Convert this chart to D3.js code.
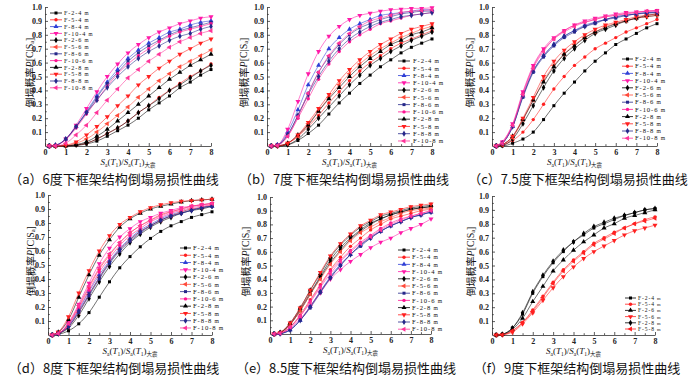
<!DOCTYPE html>
<html>
<head>
<meta charset="utf-8">
<script src="https://cdn.jsdelivr.net/npm/d3@7"></script>
<style>
body { margin: 0; background: #fff; }
svg { display: block; }
.axis text { font-family: "Liberation Serif", serif; font-weight: bold; font-size: 8px; fill: #222; }
.axis path, .axis line { stroke: #333; stroke-width: 0.8; }
</style>
</head>
<body>
<svg id="chart" width="700" height="375"></svg>
<script>
// Sa ratio where every curve is sampled
const xs = [0.2, 0.5, 1, 1.5, 2, 2.5, 3, 3.5, 4, 4.5, 5, 5.5, 6, 6.5, 7, 7.5, 8];

const names12 = ["F-2-4", "F-5-4", "F-8-4", "F-10-4", "F-2-6", "F-5-6", "F-8-6", "F-10-6", "F-2-8", "F-5-8", "F-8-8", "F-10-8"];
const names6 = ["F-2-4", "F-5-4", "F-2-6", "F-5-6", "F-2-8", "F-5-8"];

// (a) 6度
const pA = [
  [0,0,0,0.004,0.015,0.035,0.07,0.11,0.15,0.20,0.26,0.31,0.36,0.42,0.46,0.51,0.55],
  [0,0,0.001,0.006,0.02,0.05,0.09,0.13,0.18,0.24,0.29,0.35,0.40,0.45,0.50,0.54,0.59],
  [0,0.004,0.05,0.14,0.25,0.36,0.46,0.55,0.63,0.69,0.74,0.78,0.82,0.84,0.87,0.89,0.90],
  [0,0.003,0.05,0.15,0.27,0.39,0.50,0.59,0.67,0.73,0.78,0.82,0.85,0.88,0.90,0.92,0.93],
  [0,0,0.001,0.007,0.02,0.05,0.09,0.13,0.18,0.24,0.29,0.34,0.40,0.44,0.49,0.54,0.58],
  [0,0,0.003,0.02,0.05,0.10,0.16,0.22,0.28,0.35,0.41,0.47,0.52,0.57,0.61,0.65,0.69],
  [0,0.004,0.05,0.14,0.24,0.35,0.45,0.53,0.61,0.67,0.72,0.76,0.80,0.83,0.85,0.87,0.89],
  [0,0.004,0.045,0.13,0.23,0.33,0.43,0.52,0.59,0.65,0.70,0.75,0.79,0.82,0.84,0.86,0.88],
  [0,0,0.002,0.01,0.03,0.07,0.12,0.18,0.24,0.30,0.36,0.42,0.48,0.53,0.58,0.62,0.66],
  [0,0,0.006,0.03,0.08,0.14,0.21,0.29,0.36,0.44,0.50,0.56,0.61,0.66,0.70,0.74,0.77],
  [0,0.006,0.05,0.14,0.24,0.33,0.42,0.50,0.57,0.63,0.68,0.72,0.76,0.79,0.81,0.84,0.86],
  [0,0.001,0.02,0.08,0.15,0.24,0.33,0.41,0.49,0.55,0.61,0.66,0.71,0.75,0.78,0.81,0.83]
];

// (b) 7度
const pB = [
  [0,0,0.008,0.04,0.09,0.15,0.23,0.31,0.38,0.45,0.51,0.57,0.62,0.67,0.71,0.74,0.77],
  [0,0.001,0.02,0.07,0.14,0.22,0.31,0.39,0.47,0.54,0.60,0.65,0.70,0.74,0.77,0.80,0.83],
  [0,0.007,0.10,0.26,0.44,0.58,0.70,0.78,0.84,0.88,0.91,0.94,0.95,0.96,0.97,0.98,0.98],
  [0,0.007,0.12,0.32,0.52,0.68,0.79,0.86,0.91,0.94,0.955,0.97,0.98,0.985,0.99,0.99,0.995],
  [0,0,0.01,0.05,0.12,0.20,0.28,0.36,0.44,0.51,0.58,0.63,0.68,0.72,0.76,0.79,0.82],
  [0,0.001,0.02,0.07,0.16,0.25,0.35,0.44,0.52,0.59,0.65,0.70,0.74,0.78,0.81,0.84,0.86],
  [0,0.006,0.08,0.22,0.38,0.53,0.64,0.73,0.80,0.85,0.88,0.91,0.93,0.95,0.96,0.97,0.97],
  [0,0.006,0.07,0.20,0.34,0.48,0.59,0.68,0.75,0.80,0.84,0.88,0.90,0.92,0.94,0.95,0.96],
  [0,0.001,0.02,0.08,0.15,0.25,0.34,0.42,0.50,0.57,0.63,0.68,0.73,0.76,0.80,0.82,0.85],
  [0,0.001,0.02,0.08,0.17,0.27,0.37,0.47,0.55,0.62,0.68,0.73,0.77,0.81,0.84,0.86,0.88],
  [0,0.007,0.08,0.22,0.37,0.50,0.61,0.70,0.77,0.82,0.86,0.89,0.91,0.93,0.94,0.95,0.96],
  [0,0.003,0.07,0.21,0.38,0.53,0.65,0.74,0.81,0.86,0.90,0.92,0.94,0.96,0.97,0.975,0.98]
];

// (c) 7.5度
const pC = [
  [0,0,0.02,0.05,0.10,0.19,0.29,0.38,0.46,0.54,0.61,0.67,0.73,0.77,0.81,0.85,0.88],
  [0,0.005,0.04,0.10,0.19,0.30,0.41,0.50,0.58,0.64,0.70,0.74,0.78,0.82,0.85,0.88,0.91],
  [0,0.02,0.14,0.36,0.54,0.65,0.73,0.79,0.83,0.87,0.89,0.91,0.93,0.94,0.95,0.96,0.965],
  [0,0.03,0.16,0.39,0.58,0.70,0.78,0.83,0.87,0.90,0.92,0.935,0.95,0.96,0.965,0.97,0.975],
  [0,0.005,0.05,0.16,0.29,0.42,0.54,0.63,0.70,0.76,0.81,0.84,0.87,0.90,0.92,0.93,0.94],
  [0,0.01,0.06,0.19,0.33,0.47,0.58,0.66,0.73,0.78,0.82,0.86,0.88,0.90,0.92,0.93,0.94],
  [0,0.02,0.14,0.35,0.53,0.64,0.72,0.78,0.82,0.86,0.88,0.91,0.92,0.94,0.95,0.96,0.96],
  [0,0.03,0.15,0.38,0.57,0.69,0.77,0.83,0.87,0.89,0.91,0.93,0.94,0.955,0.96,0.97,0.975],
  [0,0.01,0.07,0.19,0.33,0.46,0.57,0.66,0.72,0.78,0.82,0.85,0.88,0.90,0.92,0.94,0.95],
  [0,0.01,0.07,0.20,0.35,0.50,0.61,0.69,0.75,0.80,0.84,0.87,0.89,0.91,0.93,0.94,0.95],
  [0,0.02,0.14,0.36,0.54,0.65,0.73,0.79,0.83,0.86,0.89,0.91,0.93,0.94,0.95,0.955,0.96],
  [0,0.02,0.15,0.37,0.56,0.68,0.77,0.82,0.86,0.89,0.91,0.93,0.94,0.95,0.96,0.97,0.97]
];

// (d) 8度
const pD = [
  [0,0.005,0.03,0.08,0.16,0.27,0.38,0.48,0.56,0.63,0.69,0.74,0.78,0.81,0.84,0.86,0.88],
  [0,0.01,0.08,0.20,0.34,0.47,0.57,0.66,0.73,0.78,0.82,0.86,0.88,0.90,0.92,0.93,0.94],
  [0,0.01,0.07,0.18,0.31,0.43,0.53,0.62,0.69,0.75,0.79,0.83,0.86,0.88,0.90,0.91,0.92],
  [0,0.02,0.09,0.22,0.37,0.51,0.62,0.70,0.76,0.81,0.84,0.87,0.89,0.91,0.92,0.93,0.94],
  [0,0.01,0.05,0.14,0.26,0.38,0.49,0.58,0.66,0.72,0.77,0.81,0.84,0.87,0.89,0.90,0.92],
  [0,0.01,0.06,0.16,0.29,0.41,0.52,0.61,0.68,0.74,0.78,0.82,0.85,0.88,0.90,0.91,0.93],
  [0,0.01,0.06,0.16,0.28,0.40,0.51,0.60,0.67,0.73,0.78,0.82,0.85,0.87,0.89,0.91,0.92],
  [0,0.01,0.07,0.19,0.32,0.45,0.55,0.64,0.71,0.76,0.81,0.84,0.87,0.89,0.91,0.92,0.93],
  [0,0.02,0.11,0.27,0.43,0.57,0.68,0.77,0.83,0.87,0.90,0.92,0.935,0.95,0.96,0.965,0.97],
  [0,0.02,0.13,0.30,0.46,0.60,0.71,0.79,0.84,0.88,0.91,0.93,0.945,0.955,0.96,0.965,0.97],
  [0,0.01,0.06,0.17,0.29,0.41,0.52,0.61,0.68,0.74,0.78,0.82,0.85,0.87,0.89,0.91,0.92],
  [0,0.01,0.08,0.21,0.35,0.48,0.58,0.66,0.73,0.78,0.82,0.85,0.88,0.90,0.92,0.93,0.94]
];

// (e) 8.5度
const pE = [
  [0,0.01,0.07,0.17,0.29,0.41,0.52,0.61,0.69,0.75,0.80,0.84,0.87,0.89,0.91,0.92,0.93],
  [0,0.005,0.05,0.14,0.25,0.36,0.47,0.56,0.64,0.70,0.76,0.80,0.84,0.86,0.88,0.90,0.91],
  [0,0.003,0.03,0.10,0.20,0.31,0.42,0.51,0.58,0.65,0.71,0.75,0.79,0.82,0.85,0.87,0.89],
  [0,0.003,0.04,0.11,0.20,0.30,0.40,0.47,0.53,0.58,0.63,0.67,0.70,0.74,0.77,0.80,0.84],
  [0,0.01,0.07,0.18,0.30,0.42,0.54,0.63,0.70,0.76,0.81,0.84,0.87,0.89,0.91,0.92,0.93],
  [0,0.01,0.07,0.17,0.29,0.40,0.51,0.60,0.68,0.74,0.78,0.82,0.85,0.88,0.90,0.91,0.92],
  [0,0.003,0.03,0.10,0.19,0.30,0.41,0.50,0.58,0.64,0.70,0.75,0.79,0.82,0.85,0.87,0.89],
  [0,0.005,0.05,0.13,0.24,0.35,0.46,0.54,0.61,0.67,0.72,0.77,0.81,0.84,0.86,0.88,0.90],
  [0,0.01,0.08,0.19,0.32,0.44,0.56,0.65,0.72,0.78,0.82,0.86,0.88,0.90,0.92,0.93,0.94],
  [0,0.01,0.08,0.19,0.32,0.45,0.57,0.66,0.73,0.79,0.83,0.87,0.89,0.91,0.93,0.94,0.95],
  [0,0.003,0.03,0.10,0.20,0.31,0.41,0.50,0.58,0.65,0.70,0.75,0.79,0.82,0.85,0.87,0.89],
  [0,0.005,0.05,0.13,0.23,0.34,0.44,0.53,0.60,0.66,0.71,0.76,0.80,0.83,0.86,0.88,0.90]
];

// (f) 9度
const pF = [
  [0,0.005,0.05,0.15,0.30,0.42,0.52,0.60,0.67,0.72,0.77,0.80,0.83,0.86,0.88,0.90,0.91],
  [0,0.002,0.03,0.09,0.18,0.28,0.38,0.47,0.54,0.60,0.66,0.70,0.74,0.77,0.80,0.83,0.85],
  [0,0.003,0.04,0.12,0.24,0.35,0.46,0.54,0.61,0.67,0.72,0.77,0.80,0.84,0.86,0.88,0.90],
  [0,0.002,0.02,0.08,0.16,0.25,0.34,0.42,0.49,0.55,0.60,0.64,0.68,0.72,0.75,0.77,0.79],
  [0,0.005,0.05,0.16,0.31,0.43,0.53,0.61,0.67,0.73,0.78,0.81,0.84,0.86,0.88,0.90,0.91],
  [0,0.002,0.03,0.09,0.17,0.27,0.37,0.46,0.53,0.59,0.65,0.69,0.73,0.77,0.80,0.82,0.84]
];

const yTicks = [0.1, 0.2, 0.3, 0.4, 0.5, 0.6, 0.7, 0.8, 0.9, 1.0];

// styles per series
const colors12 = ["#000", "#ff2020", "#2f3fd6", "#ff1aa8", "#000", "#ff4a3a", "#26288a", "#ff1493", "#000", "#ff2020", "#26288a", "#ff3399"];
const marks12 = ["sq", "ci", "up", "dn", "di", "lt", "sq", "ci", "up", "dn", "di", "lt"];
const colors6 = ["#000", "#ff2020", "#000", "#ff2020", "#000", "#ff2020"];
const marks6 = ["sq", "ci", "up", "dn", "di", "lt"];

const panels = [
  {data: pA, names: names12, left: 45, right: 211, top: 7, bottom: 146, ylabX: 29,
   cap: "（a）6度下框架结构倒塌易损性曲线", capX: 114, capY: 178,
   leg: {x0: 50, x1: 62, tx: 64, y: 13, dy: 6.8}},
  {data: pB, names: names12, left: 267, right: 432, top: 7, bottom: 146, ylabX: 243,
   cap: "（b）7度下框架结构倒塌易损性曲线", capX: 344, capY: 178,
   leg: {x0: 398, x1: 410, tx: 413, y: 61, dy: 7.27}},
  {data: pC, names: names12, left: 492, right: 657, top: 7, bottom: 146, ylabX: 469,
   cap: "（c）7.5度下框架结构倒塌易损性曲线", capX: 578, capY: 178,
   leg: {x0: 622, x1: 633, tx: 635, y: 59, dy: 7.2}},
  {data: pD, names: names12, left: 48, right: 212, top: 195, bottom: 335, ylabX: 30,
   cap: "（d）8度下框架结构倒塌易损性曲线", capX: 114, capY: 367,
   leg: {x0: 180, x1: 191, tx: 193, y: 248, dy: 7.27}},
  {data: pE, names: names12, left: 270, right: 431, top: 197, bottom: 334, ylabX: 245,
   cap: "（e）8.5度下框架结构倒塌易损性曲线", capX: 346, capY: 367,
   leg: {x0: 398, x1: 410, tx: 412, y: 250, dy: 7.2}},
  {data: pF, names: names6, left: 492, right: 655, top: 196, bottom: 335, ylabX: 470,
   cap: "（f）9度下框架结构倒塌易损性曲线", capX: 577, capY: 367,
   leg: {x0: 625, x1: 636, tx: 638, y: 298, dy: 6.2}}
];

const svg = d3.select("#chart");
const cjk = '"Noto Sans CJK SC", sans-serif';
const serif = '"Liberation Serif", "DejaVu Serif", serif';

function marker(sel, kind, color) {
  const type = {sq: d3.symbolSquare, ci: d3.symbolCircle, up: d3.symbolTriangle,
    dn: d3.symbolTriangle, di: d3.symbolDiamond, lt: d3.symbolTriangle}[kind];
  const rot = {dn: 180, lt: -90}[kind] || 0;
  const size = kind === "ci" ? 9 : (kind === "sq" ? 9 : 11);
  return sel.append("path")
    .attr("d", d3.symbol(type, size)())
    .attr("fill", color)
    .attr("data-rot", rot);
}

// append a run of tspans, each {t, it, sub, cjk}
function richText(textSel, parts, subSize) {
  let shifted = false;
  parts.forEach(p => {
    const ts = textSel.append("tspan").text(p.t);
    if (p.it) ts.attr("font-style", "italic");
    if (p.cjk) ts.attr("font-family", cjk);
    if (p.sub && !shifted) { ts.attr("dy", 2).attr("font-size", subSize); shifted = true; }
    else if (p.sub) ts.attr("font-size", subSize);
    else if (shifted) { ts.attr("dy", -2); shifted = false; }
  });
}

panels.forEach(pn => {
  const x = d3.scaleLinear().domain([0, 8]).range([pn.left, pn.right]);
  const y = d3.scaleLinear().domain([0, 1]).range([pn.bottom, pn.top]);
  const colors = pn.names.length === 6 ? colors6 : colors12;
  const marks = pn.names.length === 6 ? marks6 : marks12;
  const g = svg.append("g");

  // minor ticks
  g.append("g").attr("class", "axis")
    .attr("transform", `translate(0,${pn.bottom})`)
    .call(d3.axisBottom(x).tickValues(d3.range(0.5, 8, 1)).tickSize(-1.8).tickFormat(""))
    .select(".domain").remove();
  g.append("g").attr("class", "axis")
    .attr("transform", `translate(${pn.left},0)`)
    .call(d3.axisLeft(y).tickValues(d3.range(0.05, 1, 0.1)).tickSize(-1.8).tickFormat(""))
    .select(".domain").remove();

  // major axes
  g.append("g").attr("class", "axis")
    .attr("transform", `translate(0,${pn.bottom})`)
    .call(d3.axisBottom(x).ticks(8).tickSize(-3).tickSizeOuter(0).tickPadding(3).tickFormat(d3.format("d")));
  g.append("g").attr("class", "axis")
    .attr("transform", `translate(${pn.left},0)`)
    .call(d3.axisLeft(y).tickValues(yTicks).tickSize(-3).tickSizeOuter(0).tickPadding(3).tickFormat(d3.format(".1f")));

  // curves
  const line = d3.line().x((d, i) => x(xs[i])).y(d => y(d)).curve(d3.curveMonotoneX);
  pn.data.forEach((vals, s) => {
    g.append("path")
      .attr("d", line(vals))
      .attr("fill", "none")
      .attr("stroke", colors[s])
      .attr("stroke-opacity", 0.7)
      .attr("stroke-width", 0.8);
    vals.forEach((v, i) => {
      const m = marker(g, marks[s], colors[s]);
      m.attr("transform", `translate(${x(xs[i])},${y(v)}) rotate(${m.attr("data-rot")})`);
    });
  });

  // legend
  const L = pn.leg;
  const fs = Math.min(7, L.dy - 0.6);
  pn.names.forEach((nm, s) => {
    const ry = L.y + s * L.dy;
    g.append("line").attr("x1", L.x0).attr("x2", L.x1).attr("y1", ry).attr("y2", ry)
      .attr("stroke", colors[s]).attr("stroke-width", 0.8);
    const m = marker(g, marks[s], colors[s]);
    m.attr("transform", `translate(${(L.x0 + L.x1) / 2},${ry}) rotate(${m.attr("data-rot")})`);
    const t = g.append("text").attr("x", L.tx).attr("y", ry + fs * 0.34)
      .attr("font-family", serif).attr("font-size", fs).attr("letter-spacing", 0.9).attr("fill", "#111");
    t.append("tspan").text(nm);
    t.append("tspan").text(" m").attr("font-size", fs - 1);
  });

  // x axis title
  const xt = g.append("text")
    .attr("x", (pn.left + pn.right) / 2).attr("y", pn.bottom + 19)
    .attr("text-anchor", "middle").attr("font-family", serif).attr("font-size", 9).attr("fill", "#111");
  richText(xt, [
    {t: "S", it: true}, {t: "a", sub: true}, {t: "("}, {t: "T", it: true}, {t: "1", sub: true},
    {t: ")/"}, {t: "S", it: true}, {t: "a", sub: true}, {t: "("}, {t: "T", it: true}, {t: "1", sub: true},
    {t: ")"}, {t: "大震", sub: true, cjk: true}
  ], 5.5);

  // y axis title
  const yc = (pn.top + pn.bottom) / 2 - 4;
  const yt = g.append("text")
    .attr("transform", `translate(${pn.ylabX},${yc}) rotate(-90)`)
    .attr("text-anchor", "middle").attr("dominant-baseline", "central")
    .attr("font-family", serif).attr("font-size", 10).attr("fill", "#111");
  richText(yt, [
    {t: "倒塌概率", cjk: true}, {t: "P", it: true}, {t: "[C|S"}, {t: "a", sub: true}, {t: "]"}
  ], 6.5);

  // caption
  g.append("text")
    .attr("x", pn.capX).attr("y", pn.capY)
    .attr("text-anchor", "middle").attr("dominant-baseline", "central")
    .attr("font-family", cjk).attr("font-size", 13).attr("fill", "#111")
    .text(pn.cap);
});
</script>
</body>
</html>
